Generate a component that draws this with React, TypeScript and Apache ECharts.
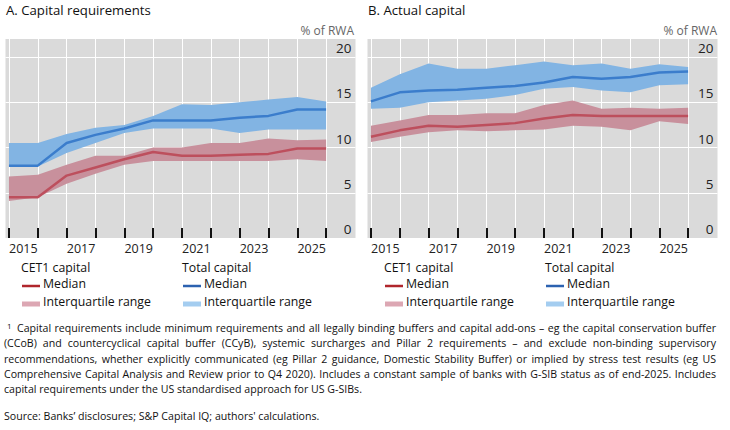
import React, { useEffect, useRef } from "react";
import * as echarts from "echarts";

const years = [2014, 2015, 2016, 2017, 2018, 2019, 2020, 2021, 2022, 2023, 2024, 2025];
const yearLabels = ["2015", "2017", "2019", "2021", "2023", "2025"];
const yTicks = [0, 5, 10, 15, 20];

// Panel A: capital requirements
const cet1MedA = [4.5, 4.5, 6.9, 7.8, 8.7, 9.5, 9.1, 9.1, 9.2, 9.3, 9.9, 9.9];
const cet1LoA = [4.1, 4.5, 6.0, 7.1, 8.1, 8.5, 8.5, 8.5, 8.5, 8.5, 8.7, 8.5];
const cet1HiA = [6.8, 7.0, 8.1, 9.1, 9.1, 10.0, 10.0, 10.5, 10.5, 11.0, 10.8, 10.9];
const totMedA = [8.0, 8.0, 10.5, 11.4, 12.1, 13.0, 13.0, 13.0, 13.3, 13.5, 14.2, 14.2];
const totLoA = [7.9, 7.9, 9.4, 10.5, 11.6, 12.1, 12.1, 12.1, 11.6, 12.0, 12.0, 12.0];
const totHiA = [10.5, 10.5, 11.5, 12.2, 12.5, 13.5, 14.8, 14.7, 15.0, 15.3, 15.6, 15.1];

// Panel B: actual capital
const cet1MedB = [11.2, 11.9, 12.4, 12.3, 12.5, 12.7, 13.2, 13.6, 13.5, 13.5, 13.5, 13.5];
const cet1LoB = [10.6, 11.2, 11.7, 11.9, 11.8, 11.9, 12.0, 12.4, 12.3, 11.9, 12.9, 12.6];
const cet1HiB = [12.4, 13.0, 13.6, 13.6, 13.8, 13.8, 14.7, 15.2, 14.3, 14.4, 14.3, 14.4];
const totMedB = [15.1, 16.1, 16.3, 16.4, 16.6, 16.8, 17.2, 17.8, 17.6, 17.8, 18.3, 18.4];
const totLoB = [14.3, 14.4, 15.0, 15.2, 15.4, 15.8, 16.5, 16.7, 16.3, 16.1, 16.9, 17.0];
const totHiB = [16.6, 18.1, 19.3, 18.7, 18.7, 19.1, 19.5, 19.1, 19.3, 18.7, 19.2, 18.9];

const footLines = [
  "Capital requirements include minimum requirements and all legally binding buffers and capital add-ons – eg the capital conservation buffer",
  "(CCoB) and countercyclical capital buffer (CCyB), systemic surcharges and Pillar 2 requirements – and exclude non-binding supervisory",
  "recommendations, whether explicitly communicated (eg Pillar 2 guidance, Domestic Stability Buffer) or implied by stress test results (eg US",
  "Comprehensive Capital Analysis and Review prior to Q4 2020). Includes a constant sample of banks with G-SIB status as of end-2025. Includes",
  "capital requirements under the US standardised approach for US G-SIBs.",
];
const sourceText = "Source: Banks’ disclosures; S&P Capital IQ; authors' calculations.";

const FONT = "'Open Sans', 'Noto Sans', sans-serif";

const C = {
  bg: "#dadada",
  redBand: "#c8909c",
  blueBand: "#82b4e3",
  redLine: "#bd4f5d",
  blueLine: "#3b7dcc",
  redLeg: "#b0262c",
  blueLeg: "#2c62b0",
  redLegBand: "#dca7b3",
  blueLegBand: "#a4cdf0",
};

function bandSeries(gi: number, lo: number[], hi: number[], color: string) {
  const data = years.map((y, i) => [y, lo[i], hi[i]]);
  return {
    type: "custom",
    xAxisIndex: gi,
    yAxisIndex: gi,
    silent: true,
    clip: true,
    data,
    encode: { x: 0, y: [1, 2] },
    renderItem: (params: any, api: any) => {
      if (params.dataIndex !== 0) return null;
      const top = data.map((d) => api.coord([d[0], d[2]]));
      const bot = data.map((d) => api.coord([d[0], d[1]])).reverse();
      return {
        type: "polygon",
        shape: { points: top.concat(bot) },
        style: { fill: color },
      };
    },
  };
}

function lineSeries(gi: number, vals: number[], color: string, name: string) {
  return {
    type: "line",
    name,
    xAxisIndex: gi,
    yAxisIndex: gi,
    data: years.map((y, i) => [y, vals[i]]),
    symbol: "none",
    lineStyle: { color, width: 2.5 },
    silent: true,
  };
}

function xAxisDef(gi: number) {
  return {
    type: "value",
    gridIndex: gi,
    min: 2013.88,
    max: 2026.02,
    axisLine: { show: false },
    axisTick: {
      show: true,
      inside: true,
      length: 10,
      customValues: years,
      lineStyle: { color: "#111", width: 2 },
    },
    splitLine: { show: true, lineStyle: { color: "#ffffff", width: 1 } },
    axisLabel: {
      show: true,
      customValues: yearLabels.map((l) => Number(l) - 0.5),
      formatter: (v: number) => {
        const idx = yearLabels.findIndex((l) => Math.abs(Number(l) - 0.5 - v) < 0.01);
        return idx >= 0 ? yearLabels[idx] : "";
      },
      margin: 4,
      fontFamily: FONT,
      fontSize: 12.5,
      color: "#222",
    },
  };
}

function yAxisDef(gi: number) {
  return {
    type: "value",
    gridIndex: gi,
    position: "right",
    min: 0,
    max: 22,
    axisLine: { show: false },
    axisTick: { show: false, customValues: yTicks },
    splitLine: { show: true, lineStyle: { color: "#ffffff", width: 1 } },
    axisLabel: {
      inside: true,
      customValues: yTicks,
      margin: 4,
      verticalAlign: "bottom",
      lineHeight: 18,
      fontFamily: FONT,
      fontSize: 13.5,
      color: "#222",
    },
  };
}

function legendBlock(x: number, y: number, head: string, lineColor: string, bandColor: string) {
  return [
    { type: "text", left: x, top: y - 9, style: { text: head, font: `12.3px ${FONT}`, fill: "#111" } },
    { type: "line", shape: { x1: x + 1, y1: y + 16, x2: x + 19, y2: y + 16 }, style: { stroke: lineColor, lineWidth: 2.5 } },
    { type: "text", left: x + 22, top: y + 7, style: { text: "Median", font: `12.3px ${FONT}`, fill: "#111" } },
    { type: "line", shape: { x1: x + 1, y1: y + 34, x2: x + 19, y2: y + 34 }, style: { stroke: bandColor, lineWidth: 5 } },
    { type: "text", left: x + 22, top: y + 25, style: { text: "Interquartile range", font: `12.3px ${FONT}`, fill: "#111" } },
  ];
}

function footnoteGraphics(): any[] {
  const out: any[] = [];
  const canvas = document.createElement("canvas");
  const ctx = canvas.getContext("2d") as CanvasRenderingContext2D;
  const right = 716;
  const lefts = footLines.map((_, i) => (i === 0 ? 17 : 4));
  // choose a font size so that the justified lines fit their width
  ctx.font = `12px ${FONT}`;
  let ratio = 1;
  for (let i = 0; i < 4; i++) {
    const w = ctx.measureText(footLines[i]).width;
    ratio = Math.min(ratio, (right - lefts[i]) / w);
  }
  const size = Math.min(12, Math.floor(12 * ratio * 0.985 * 10) / 10);
  const font = `${size}px ${FONT}`;
  ctx.font = font;
  const lineYs = [330.5, 345.8, 361.1, 376.4, 391.7];
  footLines.forEach((t, i) => {
    const top = lineYs[i] - 8;
    if (i < 4) {
      const words = t.split(" ");
      const widths = words.map((w) => ctx.measureText(w).width);
      const total = widths.reduce((a, b) => a + b, 0);
      const gap = (right - lefts[i] - total) / (words.length - 1);
      let x = lefts[i];
      words.forEach((w, k) => {
        out.push({ type: "text", left: x, top, style: { text: w, font, fill: "#111" } });
        x += widths[k] + gap;
      });
    } else {
      out.push({ type: "text", left: lefts[i], top, style: { text: t, font, fill: "#111" } });
    }
  });
  out.push({ type: "text", left: 4, top: 418 - 8, style: { text: sourceText, font, fill: "#111" } });
  out.push({ type: "text", left: 7, top: 321, style: { text: "1", font: `8px ${FONT}`, fill: "#111" } });
  return out;
}

export default function App() {
  const ref = useRef<HTMLDivElement>(null);
  useEffect(() => {
    if (!ref.current) return;
    const chart = echarts.init(ref.current, undefined, { renderer: "svg" });
    const graphics: any[] = [
      { type: "text", left: 6, top: 3, style: { text: "A. Capital requirements", font: `13.2px ${FONT}`, fill: "#111" } },
      { type: "text", left: 368, top: 3, style: { text: "B. Actual capital", font: `13.2px ${FONT}`, fill: "#111" } },
      { type: "text", right: 730 - 354, top: 24, style: { text: "% of RWA", font: `12px ${FONT}`, fill: "#666", textAlign: "right" } },
      { type: "text", right: 730 - 717, top: 24, style: { text: "% of RWA", font: `12px ${FONT}`, fill: "#666", textAlign: "right" } },
      ...legendBlock(21, 270, "CET1 capital", C.redLeg, C.redLegBand),
      ...legendBlock(182, 270, "Total capital", C.blueLeg, C.blueLegBand),
      ...legendBlock(384, 270, "CET1 capital", C.redLeg, C.redLegBand),
      ...legendBlock(545, 270, "Total capital", C.blueLeg, C.blueLegBand),
      ...footnoteGraphics(),
    ];

    chart.setOption({
      animation: false,
      grid: [
        { left: 5.5, top: 39, width: 350, height: 199, show: true, backgroundColor: C.bg, borderWidth: 0 },
        { left: 367.5, top: 39, width: 350, height: 199, show: true, backgroundColor: C.bg, borderWidth: 0 },
      ],
      xAxis: [xAxisDef(0), xAxisDef(1)],
      yAxis: [yAxisDef(0), yAxisDef(1)],
      series: [
        bandSeries(0, totLoA, totHiA, C.blueBand),
        bandSeries(0, cet1LoA, cet1HiA, C.redBand),
        lineSeries(0, totMedA, C.blueLine, "Total capital median A"),
        lineSeries(0, cet1MedA, C.redLine, "CET1 capital median A"),
        bandSeries(1, totLoB, totHiB, C.blueBand),
        bandSeries(1, cet1LoB, cet1HiB, C.redBand),
        lineSeries(1, totMedB, C.blueLine, "Total capital median B"),
        lineSeries(1, cet1MedB, C.redLine, "CET1 capital median B"),
      ],
      graphic: graphics,
    });
    return () => chart.dispose();
  }, []);
  return <div ref={ref} style={{ position: "absolute", left: 0, top: 0, width: 730, height: 430 }} />;
}
